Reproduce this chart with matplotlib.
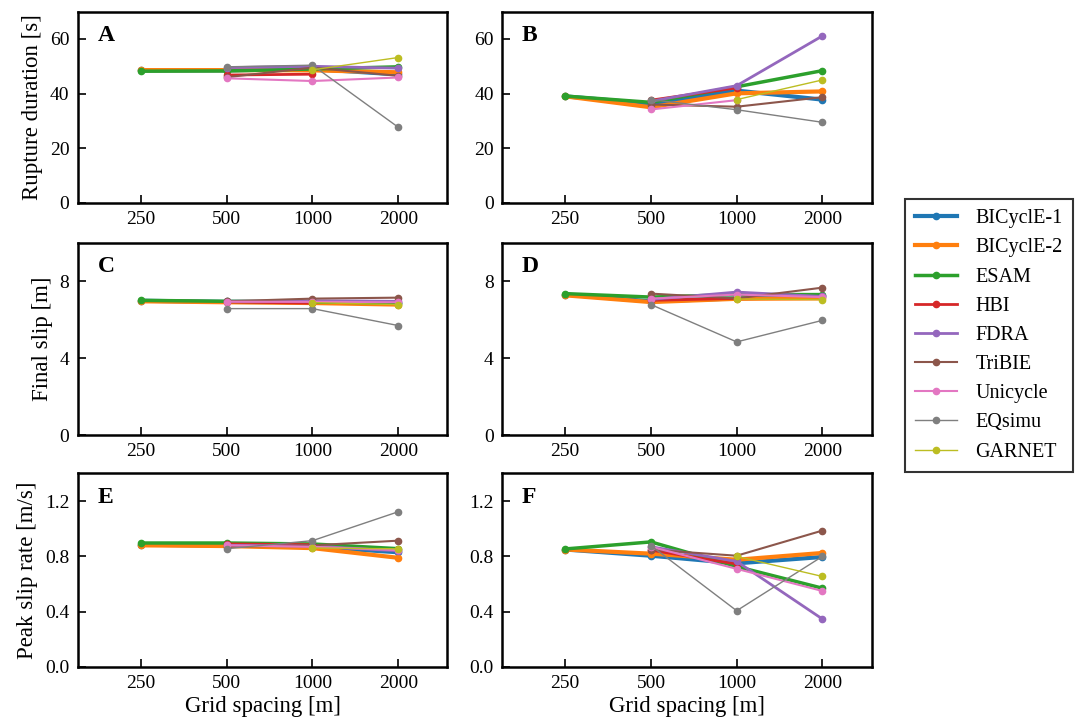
import numpy as np
import matplotlib.pyplot as plt

nan = np.nan

grid = [250, 500, 1000, 2000]
codes = ['BICyclE-1', 'BICyclE-2', 'ESAM', 'HBI', 'FDRA', 'TriBIE',
         'Unicycle', 'EQsimu', 'GARNET']

# rupture duration [s]
dur_A = {
    'BICyclE-1': [48.5, 48.5, 49.0, 47.0],
    'BICyclE-2': [48.6, 48.6, 48.5, 47.8],
    'ESAM':      [48.2, 48.3, 49.0, 49.8],
    'HBI':       [nan, 46.8, 47.1, nan],
    'FDRA':      [nan, 49.5, 50.0, 49.3],
    'TriBIE':    [nan, 46.0, 49.5, 46.5],
    'Unicycle':  [nan, 45.6, 44.6, 45.9],
    'EQsimu':    [nan, 49.8, 50.4, 27.7],
    'GARNET':    [nan, nan, 48.7, 53.2],
}
dur_B = {
    'BICyclE-1': [39.0, 36.3, 41.1, 37.8],
    'BICyclE-2': [39.0, 35.0, 40.1, 40.8],
    'ESAM':      [39.1, 36.8, 42.5, 48.4],
    'HBI':       [nan, 37.6, 42.1, nan],
    'FDRA':      [nan, 37.2, 42.9, 61.1],
    'TriBIE':    [nan, 36.0, 35.2, 38.7],
    'Unicycle':  [nan, 34.2, 37.6, nan],
    'EQsimu':    [nan, 37.8, 34.1, 29.5],
    'GARNET':    [nan, nan, 37.8, 45.0],
}
# final slip [m]
slip_C = {
    'BICyclE-1': [6.98, 6.92, 6.90, 6.85],
    'BICyclE-2': [6.95, 6.90, 6.86, 6.78],
    'ESAM':      [7.00, 6.95, 6.92, 6.86],
    'HBI':       [nan, 6.92, 6.85, nan],
    'FDRA':      [nan, 6.95, 6.98, 6.95],
    'TriBIE':    [nan, 6.95, 7.09, 7.14],
    'Unicycle':  [nan, 6.93, 6.92, 6.90],
    'EQsimu':    [nan, 6.57, 6.57, 5.69],
    'GARNET':    [nan, nan, 6.88, 6.78],
}
slip_D = {
    'BICyclE-1': [7.30, 6.95, 7.10, 7.20],
    'BICyclE-2': [7.26, 6.91, 7.08, 7.10],
    'ESAM':      [7.35, 7.17, 7.30, 7.30],
    'HBI':       [nan, 7.00, 7.10, nan],
    'FDRA':      [nan, 7.05, 7.43, 7.20],
    'TriBIE':    [nan, 7.35, 7.10, 7.66],
    'Unicycle':  [nan, 7.09, 7.30, 7.17],
    'EQsimu':    [nan, 6.78, 4.84, 5.96],
    'GARNET':    [nan, nan, 7.07, 7.04],
}
# peak slip rate [m/s]
rate_E = {
    'BICyclE-1': [0.885, 0.878, 0.870, 0.830],
    'BICyclE-2': [0.880, 0.875, 0.860, 0.790],
    'ESAM':      [0.897, 0.897, 0.890, 0.856],
    'HBI':       [nan, 0.890, 0.885, nan],
    'FDRA':      [nan, 0.880, 0.875, 0.840],
    'TriBIE':    [nan, 0.870, 0.880, 0.914],
    'Unicycle':  [nan, 0.880, 0.870, 0.845],
    'EQsimu':    [nan, 0.856, 0.914, 1.123],
    'GARNET':    [nan, nan, 0.861, 0.855],
}
rate_F = {
    'BICyclE-1': [0.850, 0.805, 0.750, 0.796],
    'BICyclE-2': [0.850, 0.820, 0.776, 0.825],
    'ESAM':      [0.854, 0.905, 0.727, 0.570],
    'HBI':       [nan, 0.845, 0.745, nan],
    'FDRA':      [nan, 0.870, 0.764, 0.347],
    'TriBIE':    [nan, 0.849, 0.805, 0.987],
    'Unicycle':  [nan, 0.870, 0.710, 0.550],
    'EQsimu':    [nan, 0.878, 0.407, 0.800],
    'GARNET':    [nan, nan, 0.800, 0.655],
}

widths = [3.0, 3.0, 2.5, 2.0, 2.0, 1.5, 1.5, 1.0, 1.0]
colors = plt.rcParams['axes.prop_cycle'].by_key()['color']

plt.rcParams['font.family'] = ['Liberation Serif', 'DejaVu Serif']
plt.rcParams['mathtext.fontset'] = 'stix'

fig = plt.figure(figsize=(10.78, 7.26), dpi=100)

lefts = [0.0722, 0.4657]
rows = [(0.7205, 0.2635), (0.4008, 0.2650), (0.0813, 0.2665)]
panels = [('A', dur_A), ('B', dur_B), ('C', slip_C), ('D', slip_D),
          ('E', rate_E), ('F', rate_F)]
ylims = [(0, 70), (0, 10), (0, 1.4)]
yticks = [[0, 20, 40, 60], [0, 4, 8], [0, 0.4, 0.8, 1.2]]
yticklabels = [['0', '20', '40', '60'], ['0', '4', '8'],
               ['0.0', '0.4', '0.8', '1.2']]
ylabels = ['Rupture duration [s]', 'Final slip [m]', 'Peak slip rate [m/s]']

for k, (letter, data) in enumerate(panels):
    r, c = divmod(k, 2)
    ax = fig.add_axes([lefts[c], rows[r][0], 0.3428, rows[r][1]])
    for i, name in enumerate(codes):
        ax.plot(grid, data[name], '-o', color=colors[i], lw=widths[i],
                ms=4.5, label=name)
    ax.set_xscale('log', base=2)
    ax.set_xlim(150, 2976)
    ax.set_xticks(grid)
    ax.set_xticklabels([str(g) for g in grid])
    ax.minorticks_off()
    ax.set_ylim(*ylims[r])
    ax.set_yticks(yticks[r])
    ax.set_yticklabels(yticklabels[r])
    ax.tick_params(direction='in', labelsize=14, length=6, width=1.2, pad=6)
    for s in ax.spines.values():
        s.set_linewidth(1.8)
    ax.text(0.054, 0.93, letter, transform=ax.transAxes, fontsize=17,
            fontweight='bold', va='top', ha='left')
    if c == 0:
        ax.set_ylabel(ylabels[r], fontsize=16.5, labelpad=5)
    if r == 2:
        ax.set_xlabel('Grid spacing [m]', fontsize=16.5, labelpad=3)
    if k == 3:
        handles, labels = ax.get_legend_handles_labels()

leg = fig.legend(handles, labels, loc='center left',
                 bbox_to_anchor=(0.830, 0.538), fontsize=14.5, frameon=True,
                 fancybox=False, edgecolor='black', handlelength=2.1,
                 labelspacing=0.5, borderpad=0.5, handletextpad=0.9)
leg.get_frame().set_linewidth(1.5)

fig.savefig('out.png', dpi=100)
